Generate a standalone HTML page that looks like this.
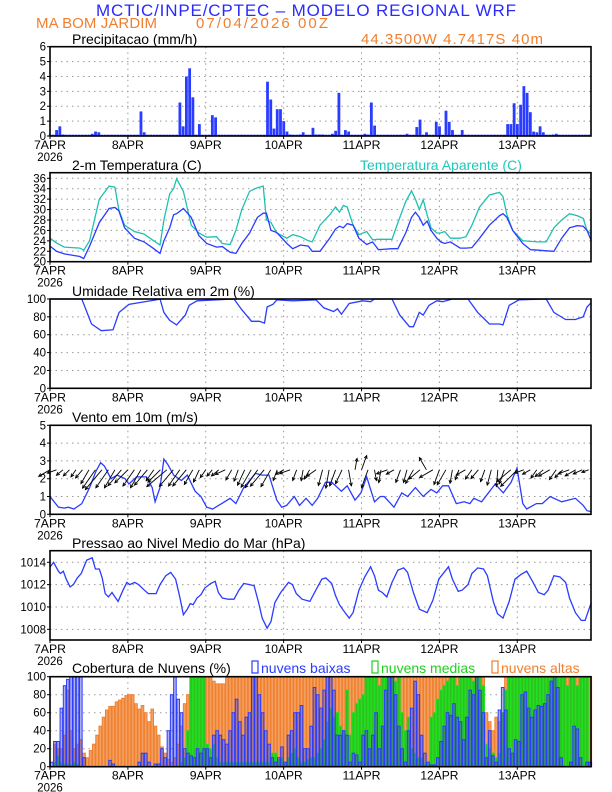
<!DOCTYPE html>
<html><head><meta charset="utf-8"><style>
html,body{margin:0;padding:0;background:#fff;}
svg{display:block;font-family:"Liberation Sans",sans-serif;}
</style></head><body>
<svg id="c" width="612" height="792" viewBox="0 0 612 792" xmlns="http://www.w3.org/2000/svg">
<text x="306" y="16" text-anchor="middle" font-size="17" fill="#2a2aff" textLength="420">MCTIC/INPE/CPTEC – MODELO REGIONAL WRF</text>
<text x="36" y="28" font-size="15" fill="#f08030" textLength="121">MA BOM JARDIM</text>
<text x="196" y="28" font-size="15" fill="#f08030" textLength="132">07/04/2026 00Z</text>
<text x="361" y="44" font-size="15" fill="#f08030" textLength="182">44.3500W 4.7417S 40m</text>
</svg>
<script>
// ---------- data ----------
const dayLabels=["7APR","8APR","9APR","10APR","11APR","12APR","13APR"];
const precipHours=[2,3,4,13,14,15,28,29,40,41,42,43,44,46,50,51,67,68,69,70,71,72,73,74,77,78,81,82,83,84,87,88,89,91,92,97,98,99,100,110,113,114,116,119,120,122,123,124,127,141,142,143,144,145,146,147,148,149,150,151,152,155,156];
const precipVals=[0.4,0.65,0.1,0.15,0.3,0.25,1.65,0.25,2.25,0.65,4.0,4.55,2.6,0.8,1.4,1.25,3.65,2.45,0.5,1.8,1.8,1.0,0.3,0.1,0.1,0.25,0.55,0.1,0.1,0.1,0.15,0.35,2.9,0.4,0.3,0.15,0.1,2.25,0.7,0.15,0.6,1.1,0.25,0.95,0.65,1.7,0.95,0.4,0.4,0.8,0.8,2.2,0.8,2.1,3.35,2.9,1.6,0.3,0.25,0.65,0.25,0.1,0.15];
const tempHours=[0,2,4.4,9.2,10.4,12.2,15.2,18.2,20,21.2,23,26,29,32,33.9,35.1,36.9,38.1,39,41.1,43.5,45.9,48.3,51.3,53.1,55.5,57.3,59.1,61.5,63.9,65.7,66.7,68.1,69.9,73,74.8,77.2,79.6,80.8,83.2,86.2,88,89.2,90.4,91.6,93.4,95.2,97.6,99.4,101.2,105.4,107.2,109.6,111.4,112.6,113.8,115,116.2,117.4,119.2,120.4,121.6,123.4,126.4,128.2,130,132.4,135.4,138.5,139.6,140.8,142.6,145.7,148.1,150.5,152.9,155.3,157.7,160.1,162.5,164.3,165.5,166.8];
const tempVals=[23,22,21.5,21,20.6,23,27.5,30.2,30.4,29.8,26.5,24.5,23.8,22.5,21.6,24,26.5,29,29.2,30.2,28.5,25,23.5,22.8,22.9,21.8,21.6,23.5,25.5,28.5,29.3,29.3,26,25.6,23.5,22.5,23.2,23,22,22,24.5,26.3,26.8,26.5,27.3,27,24.5,23.3,23.8,22.3,22.5,22.5,25.5,28.5,29.5,28.5,27,27.8,26,24.5,23.8,23.5,23.8,22.6,22.6,22.7,24.5,27,28.8,29.2,28.5,26,23.5,22.3,22.2,22.1,22,24.5,26.5,26.9,26.8,26,24,23.4];
const appTempVals=[24.5,23.6,22.8,22.6,22.2,24,32,34.5,34.3,30,27,25.8,25.3,24,23.2,28,33,34,35.9,33.5,27,25.5,24.7,24.8,23.5,23.3,26,30,33.5,34.2,34.5,28,27.5,25.5,24.5,25.2,24.8,24,23.8,27,29,30.5,29.5,30.8,30.5,27,25.2,25.8,24.2,24.3,24.3,27.5,31.5,33.6,32,30,31.9,29,26.5,25.5,25.5,25.8,24.5,24.5,24.8,27,30.5,32.8,33.3,32.5,29,26,24,23.9,23.8,23.8,26.5,28,29.2,28.8,28.3,26,25.3];
const rhHours=[0,9.8,12.8,15.8,19.4,21.3,24.3,32.7,33.9,35.1,36.9,39,41.7,42.9,45.3,56.7,59.1,62.1,64.5,66.1,66.9,68.7,69.9,74.8,82,84.4,87.4,88.6,89.8,92.2,96.4,98.8,100,105.4,107.8,110.8,112,113.8,115,116.8,119.2,121,124,128.8,131.8,135.4,138.5,139.6,141.5,144.5,152.9,155.3,158.9,161.9,164.3,165.5,166.8];
const rhVals=[100,100,72,64.5,65.5,85,94,99,100,85,76,71,82,93,98,100,88,75,75,73,91,94,99,98,99,90,86,89,83,95,98,97,100,100,82,69,69,85,82,93,98,97,100,100,85,72,72,71,93,99,100,85,77,77,80,91,96];
const windHours=[0,2.6,4.4,5.6,7.4,9.8,12.2,14.1,15.6,16.8,18.8,20.7,23.1,24.3,26.7,29.7,31.5,32.4,33.9,35.1,36.3,38.1,40.5,42.3,44.7,46.5,48.3,50.1,52.9,55.5,57.3,59.7,63.3,65.4,67.5,69.9,71.4,72.9,75.3,76.9,78.9,80.8,82.5,84.9,86.8,88,89.8,91.6,94,95.8,97.6,100,101.8,103,106,108.4,110.2,112.6,115,117.4,119.2,121,122.8,125.2,127.6,129.4,130.6,133,137.2,139.7,142.1,143.9,145.7,146.9,149.9,151.7,154.1,157.7,161.9,164.3,165.5,166.8];
const windVals=[1.0,0.4,0.35,0.4,0.3,0.6,1.5,2.4,2.9,2.7,2.0,2.2,2.0,1.7,2.1,2.1,1.5,0.7,1.5,3.1,2.8,2.2,1.9,2.2,1.3,1.0,0.4,0.3,0.6,0.9,0.6,1.5,2.3,2.2,2.2,0.8,0.4,0.5,1.0,0.5,0.9,0.5,0.9,1.8,1.8,1.6,1.3,1.6,0.8,1.2,2.1,0.7,1.0,1.0,0.4,1.2,1.0,1.5,1.0,1.4,1.2,1.6,1.6,0.6,0.7,0.6,0.9,0.7,1.7,1.2,1.8,2.6,0.6,0.3,0.6,0.6,1.0,0.7,0.9,0.5,0.2,0.15];
// arrow direction (degrees clockwise from north, direction arrow points) every 2 h
const arrowDir=[240,250,230,225,215,220,210,215,220,215,210,220,225,215,210,220,215,225,230,220,215,220,210,205,215,220,230,245,210,200,205,210,215,220,210,200,240,250,200,190,210,235,195,190,200,205,170,10,20,200,170,190,250,240,200,195,210,230,330,240,200,210,190,200,240,215,220,200,195,185,200,230,225,250,240,215,230,240,215,225,250,240,245,250];
const presHours=[0.1,1.1,2.6,3.2,4.1,5.0,6.2,7.2,8.4,9.6,11.3,13.0,14.0,15.2,16.1,17.0,18.0,19.1,20.0,21.0,22.5,23.7,24.6,26.1,27.3,29.1,30.3,31.5,32.7,33.9,35.7,37.2,38.7,39.9,41.1,42.3,43.2,44.1,45.3,46.5,47.7,49.5,50.9,51.9,53.1,54.9,56.7,58.2,59.7,61.5,62.9,64.2,65.4,66.9,68.1,69.3,71.1,73.5,74.7,75.9,77.7,80.1,81.9,83.8,85.0,86.8,88.0,89.2,90.4,92.2,93.4,95.2,97.0,98.8,100.0,101.2,102.4,103.8,105.4,107.2,109.0,110.2,112.0,113.8,116.2,118.0,119.8,122.8,124.0,125.8,127.0,128.8,130.0,131.8,133.6,134.8,136.6,137.9,139.6,141.5,143.3,145.1,146.9,148.7,150.5,152.3,153.5,155.3,157.1,158.9,160.1,161.9,163.7,164.9,166.8];
const presVals=[1013.6,1014,1013.2,1013,1013.2,1012.5,1011.8,1012,1012.6,1013,1014.2,1014.4,1013.4,1013.4,1012.6,1011.2,1010.9,1011.3,1010.9,1010.5,1011.5,1012.2,1012,1012.2,1012,1011.5,1011.2,1011.2,1011.2,1012,1012.8,1013.1,1012.5,1011,1009.3,1009.8,1010.3,1010.2,1010.8,1011.1,1011.7,1012.1,1012.3,1011.3,1010.8,1010.7,1010.7,1011.5,1012.1,1012,1011.9,1010.5,1009,1008.1,1008.7,1010.4,1011.3,1012.2,1012,1011.2,1010.7,1010.5,1011.5,1012.5,1012.6,1012.1,1011,1010.2,1009.7,1009,1009.5,1011.5,1012.7,1013.6,1012.8,1011.5,1011.3,1010.9,1012.2,1013.3,1013.5,1013.1,1011.3,1009.8,1009.5,1010.6,1012.5,1013.6,1012.5,1011.4,1011.5,1012,1013,1013.5,1013.4,1012.8,1010.5,1009.4,1009,1010.5,1012.5,1012.9,1013.2,1012.3,1011.3,1011.1,1011.5,1012.8,1012.7,1012.2,1010.8,1009.5,1008.8,1008.8,1010.4];
const cloudLow=[5,28,28,65,90,97,100,100,100,100,10,0,0,0,0,0,0,0,7,3,0,0,0,0,0,0,0,5,15,15,5,0,3,3,20,10,40,80,100,75,60,20,15,12,10,20,15,20,20,10,35,40,35,30,25,40,60,75,50,35,55,60,100,100,80,60,40,25,10,5,10,22,5,35,40,60,60,68,20,20,45,88,80,65,85,100,100,85,35,35,40,35,5,15,13,5,35,40,20,35,60,20,45,85,100,100,80,45,20,5,40,65,95,80,35,15,5,2,2,10,28,45,60,57,70,55,50,30,55,85,80,100,85,60,10,40,12,5,63,88,63,20,15,30,28,80,83,65,55,63,68,67,70,80,95,100,88,10,0,0,5,45,42,10,0,5,5];
const cloudMid=[0,5,12,5,3,3,2,5,3,0,0,0,0,0,0,0,0,0,0,0,0,0,0,0,0,0,0,0,0,0,0,0,0,0,0,0,0,0,0,0,5,10,40,100,100,100,100,100,25,20,25,10,5,5,5,5,5,5,5,5,5,5,5,5,5,5,5,5,15,15,8,10,5,10,15,20,10,5,5,8,10,10,15,20,30,50,65,55,60,45,40,85,35,60,70,75,80,100,100,100,100,90,100,100,100,100,95,100,60,40,55,20,15,10,10,3,3,55,60,75,85,90,95,100,100,90,100,100,100,100,95,100,100,90,25,20,15,10,15,60,85,100,100,100,100,100,100,100,100,100,100,100,100,100,100,100,100,100,100,90,100,100,90,100,100,100];
const cloudHigh=[0,25,20,20,35,85,40,20,25,30,15,10,18,25,35,45,55,63,67,67,72,74,76,79,80,80,70,64,68,60,50,64,45,35,22,15,8,5,10,25,45,70,80,85,100,100,100,100,100,100,95,92,92,92,100,100,100,100,100,100,100,100,100,100,100,100,100,100,100,100,100,100,100,100,100,100,100,100,100,100,100,100,100,100,100,100,100,100,100,100,100,100,100,100,100,100,100,100,100,100,100,100,100,100,100,100,100,100,100,100,100,100,100,100,100,100,100,100,100,100,100,100,100,100,100,100,100,100,100,100,100,100,100,100,60,50,40,55,50,60,100,100,100,100,100,100,100,100,100,100,100,100,100,100,100,100,100,100,100,100,100,100,100,100,100,100,100];
const precipTicks=[0,1,2,3,4,5,6];
const tempTicks=[20,22,24,26,28,30,32,34,36];
const rhTicks=[0,20,40,60,80,100];
const windTicks=[0,1,2,3,4,5];
const presTicks=[1008,1010,1012,1014];
const cloudTicks=[0,20,40,60,80,100];

// ---------- drawing ----------
const svg=document.getElementById('c');
const NS="http://www.w3.org/2000/svg";
const X0=50,X1=591,HPX=3.245;
function X(h){return X0+h*HPX;}
function mk(tag,attrs,parent){const e=document.createElementNS(NS,tag);for(const k in attrs)e.setAttribute(k,attrs[k]);(parent||svg).appendChild(e);return e;}
function axisY(top,bot,vmin,vmax){return v=>bot-(v-vmin)/(vmax-vmin)*(bot-top);}
function panel(name,top,bot,Y,ticks,title,titleY){
  const g=mk('g',{});
  
  
  ticks.forEach(t=>{const y=Y(t);
    if(y>top+1&&y<bot-1){const gl=mk('line',{x1:X0,x2:X1,y1:y,y2:y,stroke:'#999','stroke-width':1,'stroke-dasharray':'1.5,4'},g);}
    const tl=mk('text',{x:X0-4,y:y+4,'font-size':11.5,'text-anchor':'end',fill:'#000'},g);
    
    
    tl.textContent=t;
    mk('line',{x1:X0-3,x2:X0,y1:y,y2:y,stroke:'#000'},g);
  });
  dayLabels.forEach((d,i)=>{const x=X(i*24);
    if(i>0){const gl=mk('line',{x1:x,x2:x,y1:top,y2:bot,stroke:'#999','stroke-width':1,'stroke-dasharray':'1.5,4'},g);}
    mk('line',{x1:x,x2:x,y1:bot,y2:bot+3,stroke:'#000'},g);
    const tl=mk('text',{x:x,y:bot+13,'font-size':11.5,'text-anchor':'middle',fill:'#000',textLength:d.length>4?38:32,lengthAdjust:'spacingAndGlyphs'},g);
    
    
    tl.textContent=d;
  });
  const yr=mk('text',{x:X0,y:bot+25,'font-size':11.5,'text-anchor':'middle',fill:'#000'},g);
  
  
  yr.textContent='2026';
  const tt=mk('text',{x:72,y:titleY,'font-size':14,fill:'#000'},g);
  
  
  tt.textContent=title;
  return g;
}
function frame(name,top,bot){const f=mk('rect',{x:X0,y:top,width:X1-X0,height:bot-top,fill:'none',stroke:'#000','stroke-width':1.6});}
function line(hours,vals,Y,color,name){const n=Math.min(hours.length,vals.length);let d='';for(let i=0;i<n;i++){d+=(i?'L':'M')+X(hours[i]).toFixed(1)+','+Y(vals[i]).toFixed(1);}const p=mk('path',{d:d,fill:'none',stroke:color,'stroke-width':1.3});return p;}

// Panel 1 precip
{const top=46.7,bot=136,Y=axisY(top,bot,0,6);
panel('precipitation',top,bot,Y,precipTicks,'Precipitacao (mm/h)',44);
for(let h=0;h<167;h++){mk('line',{x1:X(h)-1.4,x2:X(h)+1.4,y1:bot-0.7,y2:bot-0.7,stroke:'#2a3cff','stroke-width':1.2});}
precipHours.forEach((h,i)=>{const y=Y(precipVals[i]);const r=mk('rect',{x:X(h)-1.3,y:y,width:2.8,height:bot-y,fill:'#2a3cff'});});
frame('precipitation',top,bot);}

// Panel 2 temperature
{const top=172.7,bot=261.7,Y=axisY(top,bot,20,37.07);
panel('temperature',top,bot,Y,tempTicks,'2-m Temperatura (C)',170);
const t2=mk('text',{x:360,y:170,'font-size':14,fill:'#20c8b8'});t2.textContent='Temperatura Aparente (C)';
line(tempHours,appTempVals,Y,'#20c0b0','apparent-temperature-line');
line(tempHours,tempVals,Y,'#2a3cff','temperature-line');
frame('temperature',top,bot);}

// Panel 3 RH
{const top=299,bot=388.3,Y=axisY(top,bot,0,100);
panel('humidity',top,bot,Y,rhTicks,'Umidade Relativa em 2m (%)',296);
line(rhHours,rhVals,Y,'#2a3cff','humidity-line');
frame('humidity',top,bot);}

// Panel 4 wind
{const top=425.3,bot=514.3,Y=axisY(top,bot,0,5);
panel('wind',top,bot,Y,windTicks,'Vento em 10m (m/s)',422);
line(windHours,windVals,Y,'#2a3cff','wind-speed-line');
const by=Y(2.5);
function spd(h){for(let i=1;i<windHours.length;i++){if(windHours[i]>=h){const a=windHours[i-1],b=windHours[i];return windVals[i-1]+(windVals[i]-windVals[i-1])*(h-a)/(b-a);}}return windVals[windVals.length-1];}
arrowDir.forEach((d,i)=>{const h=i*2;const L=6+spd(h)*7;const rad=d*Math.PI/180;const x0=X(h),y0=by;const x1=x0+Math.sin(rad)*L,y1=y0-Math.cos(rad)*L;
 const g=mk('g',{stroke:'#000','stroke-width':0.9,fill:'none'});
 
 
 mk('line',{x1:x0,y1:y0,x2:x1,y2:y1},g);
 const a1=rad+Math.PI-0.45,a2=rad+Math.PI+0.45;
 mk('path',{d:`M${x1+Math.sin(a1)*3.5},${y1-Math.cos(a1)*3.5}L${x1},${y1}L${x1+Math.sin(a2)*3.5},${y1-Math.cos(a2)*3.5}`},g);});
frame('wind',top,bot);}

// Panel 5 pressure
{const top=550.7,bot=640,Y=v=>562.3+(1014-v)*11.17;
panel('pressure',top,bot,Y,presTicks,'Pressao ao Nivel Medio do Mar (hPa)',548);
line(presHours,presVals,Y,'#2a3cff','pressure-line');
frame('pressure',top,bot);}

// Panel 6 clouds
{const top=676.7,bot=766.7,Y=axisY(top,bot,0,100);
panel('cloud-cover',top,bot,Y,cloudTicks,'Cobertura de Nuvens (%)',673);
const leg=[['nuvens baixas','#2a3cff',252],['nuvens medias','#20d020',372],['nuvens altas','#f08030',492]];
leg.forEach(l=>{const g=mk('g',{});
 mk('rect',{x:l[2],y:661,width:6,height:12,fill:'none',stroke:l[1],'stroke-width':1.2},g);
 const t=mk('text',{x:l[2]+9,y:673,'font-size':14,fill:l[1]},g);t.textContent=l[0];});
const w=2.6;
function bars(vals,fill,stroke,op,name){vals.forEach((v,h)=>{if(v<=0)return;const y=Y(v);const r=mk('rect',{x:X(h+0.5)-w/2,y:y,width:w,height:bot-y,fill:fill,'fill-opacity':op,stroke:stroke,'stroke-width':1});});}
bars(cloudHigh,'#f4a060','#f08030',1,'high-cloud-bar');
bars(cloudMid,'#30c020','#20e020',1,'mid-cloud-bar');
bars(cloudLow,'#5050d0','#2a3cff',0.45,'low-cloud-bar');
frame('cloud-cover',top,bot);}
</script>
</body></html>
